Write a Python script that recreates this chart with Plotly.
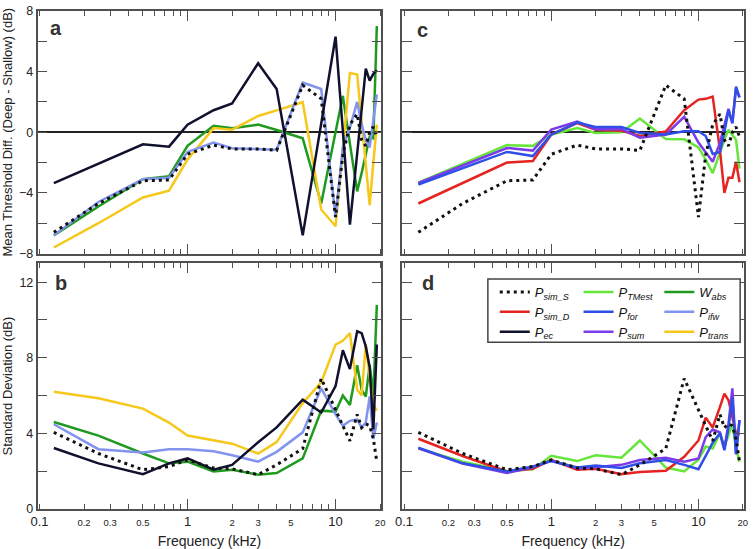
import plotly.graph_objects as go

# ---------------- data ----------------
FREQ_KHZ = [0.125, 0.25, 0.5, 0.75, 1, 1.5, 2, 3, 4, 6, 8, 10, 11.2, 12.5, 14, 15, 16, 17, 18, 19]

# Mean threshold difference (Deep - Shallow), dB
MEAN_PSIM_S = [-6.6, -4.7, -3.2, -3.15, -1.45, -0.85, -1.1, -1.1, -1.2, 3.1, 2.2, -5.6, -1.5, 0.5, 1.2, -0.5, -0.9, 0.0, 0.35, -0.3]
MEAN_PSIM_D = [-4.7, -3.35, -2.0, -1.9, -0.15, 0.6, 0.17, 0.1, -0.25, 0.05, 1.45, 2.15, 2.2, 2.35, -1.2, -4.0, -3.0, -3.0, -1.95, -3.3]
MEAN_PEC = [-3.35, -2.1, -0.8, -0.95, 0.5, 1.45, 1.9, 4.55, 2.85, -6.8, 0.6, 6.3, 0.1, -6.1, -1.4, 1.5, 4.2, 3.4, 3.85, 4.1]
MEAN_PTMEST = [-3.33, -2.1, -0.85, -0.9, -0.15, 0.28, -0.05, 0.0, 0.9, -0.45, -0.47, -1.0, -1.8, -2.7, -1.3, -0.5, 0.17, -0.15, -0.5, -2.4]
MEAN_PFOR = [-3.45, -2.4, -1.3, -1.57, -0.15, 0.64, 0.34, 0.34, -0.05, -0.15, 0.06, 0.06, -0.25, -1.43, -1.3, 0.0, 1.44, 0.6, 3.0, 2.3]
MEAN_PSUM = [-3.35, -2.2, -1.04, -1.21, 0.17, 0.7, 0.2, 0.2, -0.36, -0.15, 1.02, -0.68, -1.3, -1.95, -0.7, 0.4, 1.55, 0.6, 2.9, 2.3]
MEAN_WABS = [-6.8, -4.9, -3.1, -2.9, -0.9, 0.42, 0.27, 0.5, 0.15, -0.4, -4.7, 0.0, 2.4, -0.75, -3.9, -2.7, -1.4, -0.3, -0.4, 7.0]
MEAN_PIFW = [-6.8, -4.6, -3.1, -3.0, -1.3, -0.68, -1.05, -1.1, -1.15, 3.27, 2.85, -5.6, -1.0, 0.3, 2.0, 0.5, -0.5, -1.0, 0.8, 2.5]
MEAN_PTRANS = [-7.6, -6.0, -4.3, -3.85, -1.8, 0.27, 0.17, 1.07, 1.44, 1.98, -5.1, -6.2, -1.15, 3.9, 3.8, 0.7, -2.1, -4.8, -2.0, 0.5]

# Standard deviation, dB
SD_PSIM_S = [4.05, 2.93, 2.07, 2.24, 2.59, 2.16, 2.12, 1.81, 2.33, 3.19, 6.9, 5.2, 4.4, 3.6, 5.0, 4.3, 4.5, 4.4, 3.7, 2.5]
SD_PSIM_D = [3.71, 2.8, 1.98, 2.12, 2.59, 2.07, 2.12, 1.84, 1.95, 2.02, 2.76, 3.62, 4.83, 4.31, 5.4, 6.1, 5.75, 4.8, 4.0, 3.9]
SD_PEC = [3.22, 2.41, 1.84, 2.41, 2.67, 2.07, 2.33, 3.53, 4.31, 5.78, 5.1, 6.5, 8.4, 7.4, 9.4, 9.3, 8.6, 7.5, 4.2, 8.7]
SD_PTMEST = [3.2, 2.5, 2.0, 2.1, 2.81, 2.53, 2.84, 2.71, 3.62, 2.19, 1.98, 2.6, 3.3, 3.2, 4.0, 3.3, 3.9, 4.48, 3.2, 2.5]
SD_PFOR = [3.24, 2.41, 1.98, 2.24, 2.53, 2.19, 2.29, 2.16, 2.41, 2.59, 2.33, 2.1, 2.8, 3.5, 4.0, 3.1, 4.3, 5.9, 2.9, 4.7]
SD_PSUM = [3.2, 2.4, 1.9, 2.2, 2.55, 2.15, 2.2, 2.33, 2.59, 2.71, 2.5, 2.67, 3.8, 4.2, 4.05, 3.2, 4.5, 6.38, 2.9, 4.7]
SD_WABS = [4.6, 3.88, 2.93, 2.41, 2.5, 1.98, 2.07, 1.81, 1.9, 2.67, 5.2, 5.15, 6.0, 5.5, 7.6, 6.3, 5.95, 7.6, 6.0, 10.8]
SD_PIFW = [4.48, 3.16, 2.98, 3.16, 3.16, 3.05, 2.84, 2.5, 3.02, 4.05, 6.38, 5.0, 4.4, 4.66, 4.74, 4.31, 4.57, 5.95, 3.7, 4.57]
SD_PTRANS = [6.2, 5.86, 5.31, 4.57, 3.88, 3.62, 3.45, 2.93, 3.53, 5.6, 6.7, 8.7, 8.9, 9.3, 6.3, 6.0, 8.7, 7.0, 5.5, 5.2]

XTICK_VALS = [0.1, 0.2, 0.3, 0.5, 1, 2, 3, 5, 10, 20]
XTICK_TEXT = ["0.1", "0.2", "0.3", "0.5", "1", "2", "3", "5", "10", "20"]
XTICK_BIG = ["0.1", "1", "10"]
XMINOR_VALS = [0.4, 0.6, 0.7, 0.8, 0.9, 4, 6, 7, 8, 9]
XLONG_VALS = [1, 10]

# ---------------- style ----------------
FONT = "Liberation Sans, Arial, Helvetica, sans-serif"
AX = "#505050"

SERIES = {
    "Psim_S": dict(name="<i>P<sub>sim_S</sub></i>", color="#111111", dash="3px,4px", width=3,
                   mean=MEAN_PSIM_S, sd=SD_PSIM_S),
    "Psim_D": dict(name="<i>P<sub>sim_D</sub></i>", color="#e52420", dash="solid", width=2.5,
                   mean=MEAN_PSIM_D, sd=SD_PSIM_D),
    "Pec": dict(name="<i>P<sub>ec</sub></i>", color="#10112e", dash="solid", width=2.5,
                mean=MEAN_PEC, sd=SD_PEC),
    "PTMest": dict(name="<i>P<sub>TMest</sub></i>", color="#66e63a", dash="solid", width=2.5,
                   mean=MEAN_PTMEST, sd=SD_PTMEST),
    "Pfor": dict(name="<i>P<sub>for</sub></i>", color="#2f4fe6", dash="solid", width=2.5,
                 mean=MEAN_PFOR, sd=SD_PFOR),
    "Psum": dict(name="<i>P<sub>sum</sub></i>", color="#7b3be8", dash="solid", width=2.5,
                 mean=MEAN_PSUM, sd=SD_PSUM),
    "Wabs": dict(name="<i>W<sub>abs</sub></i>", color="#1f9a1f", dash="solid", width=2.5,
                 mean=MEAN_WABS, sd=SD_WABS),
    "Pifw": dict(name="<i>P<sub>ifw</sub></i>", color="#8394ee", dash="solid", width=2.5,
                 mean=MEAN_PIFW, sd=SD_PIFW),
    "Ptrans": dict(name="<i>P<sub>trans</sub></i>", color="#f6c81b", dash="solid", width=2.5,
                   mean=MEAN_PTRANS, sd=SD_PTRANS),
}
# three legend columns
LEGEND_COLS = {
    "legend": ["Psim_S", "Psim_D", "Pec"],
    "legend2": ["PTMest", "Pfor", "Psum"],
    "legend3": ["Wabs", "Pifw", "Ptrans"],
}
LEGEND_OF = {k: lg for lg, ks in LEGEND_COLS.items() for k in ks}
RANK_OF = {k: i + 1 for ks in LEGEND_COLS.values() for i, k in enumerate(ks)}

GROUP_A = ["Wabs", "Ptrans", "Pifw", "Pec", "Psim_S"]      # panels a, b
GROUP_C = ["PTMest", "Psim_D", "Psum", "Pfor", "Psim_S"]   # panels c, d

fig = go.Figure()
shown = set()


def add(key, xa, ya, yvals):
    s = SERIES[key]
    show = key not in shown
    shown.add(key)
    fig.add_trace(go.Scatter(
        x=FREQ_KHZ, y=yvals, mode="lines", name=s["name"],
        line=dict(color=s["color"], width=s["width"], dash=s["dash"]),
        xaxis=xa, yaxis=ya, showlegend=show, legend=LEGEND_OF[key],
        legendrank=RANK_OF[key], hoverinfo="skip"))


for k in GROUP_A:
    add(k, "x2", "y2", SERIES[k]["sd"])
    add(k, "x", "y", SERIES[k]["mean"])
for k in GROUP_C:
    add(k, "x4", "y4", SERIES[k]["sd"])
    add(k, "x3", "y3", SERIES[k]["mean"])

# empty traces so that the overlay axes (long ticks at 1 and 10) are drawn
for xa, ya in [("x5", "y"), ("x6", "y2"), ("x7", "y3"), ("x8", "y4")]:
    fig.add_trace(go.Scatter(x=[], y=[], xaxis=xa, yaxis=ya, showlegend=False, hoverinfo="skip"))

W, H = 754, 549
XDOM_L = [31 / W, 380 / W]
XDOM_R = [401 / W, 748 / W]
YDOM_T = [1 - 253 / H, 1 - 4 / H]
YDOM_B = [1 - 515 / H, 1 - 263 / H]
XR = [-1.013, 1.31]

ticktext = [t if t in XTICK_BIG else "<span style='font-size:9.5px'>%s</span>" % t for t in XTICK_TEXT]


def xaxis(domain, anchor, labels, title=None):
    d = dict(domain=domain, anchor=anchor, type="log", range=XR,
             showline=True, linecolor=AX, linewidth=1.5, mirror="allticks",
             ticks="inside", ticklen=5, tickwidth=1.2, tickcolor=AX,
             tickmode="array", tickvals=XTICK_VALS, ticktext=ticktext,
             showticklabels=labels, showgrid=False, zeroline=False,
             ticklabeloverflow="allow",
             tickfont=dict(family=FONT, size=13, color="#222"),
             minor=dict(tickmode="array", tickvals=XMINOR_VALS, ticks="inside",
                        ticklen=5, tickwidth=1.2, tickcolor=AX, showgrid=False))
    if title:
        d["title"] = dict(text=title, font=dict(family=FONT, size=14, color="#222"), standoff=8)
    return d


def long_ticks(over, anchor):
    return dict(overlaying=over, anchor=anchor, type="log", range=XR,
                showline=False, mirror="ticks", ticks="inside", ticklen=10,
                tickwidth=1.2, tickcolor=AX, tickmode="array", tickvals=XLONG_VALS,
                showticklabels=False, showgrid=False, zeroline=False)


def yaxis(domain, anchor, rng, vals, minor_vals, labels, zl, title=None):
    d = dict(domain=domain, anchor=anchor, range=rng,
             showline=True, linecolor=AX, linewidth=1.5, mirror="allticks",
             ticks="inside", ticklen=10, tickwidth=1.2, tickcolor=AX,
             tickmode="array", tickvals=vals, showticklabels=labels,
             ticklabeloverflow="allow",
             showgrid=False, zeroline=zl, zerolinecolor="#222", zerolinewidth=1.5,
             tickfont=dict(family=FONT, size=12.5, color="#222"),
             minor=dict(tickmode="array", tickvals=minor_vals, ticks="inside",
                        ticklen=6, tickwidth=1.2, tickcolor=AX, showgrid=False))
    if title:
        d["title"] = dict(text=title, font=dict(family=FONT, size=13, color="#222"), standoff=5)
    return d


def legend_col(xpix):
    return dict(x=xpix / W, y=1 - 277 / H, xanchor="left", yanchor="top",
                orientation="v", itemwidth=30, bgcolor="rgba(0,0,0,0)", borderwidth=0,
                font=dict(family=FONT, size=13, color="#111"), traceorder="normal",
                tracegroupgap=0)


fig.update_layout(
    width=W, height=H, margin=dict(l=0, r=0, t=0, b=0),
    paper_bgcolor="white", plot_bgcolor="white",
    font=dict(family=FONT, color="#222"),
    xaxis=xaxis(XDOM_L, "y", False),
    xaxis2=xaxis(XDOM_L, "y2", True, "Frequency (kHz)"),
    xaxis3=xaxis(XDOM_R, "y3", False),
    xaxis4=xaxis(XDOM_R, "y4", True, "Frequency (kHz)"),
    xaxis5=long_ticks("x", "y"),
    xaxis6=long_ticks("x2", "y2"),
    xaxis7=long_ticks("x3", "y3"),
    xaxis8=long_ticks("x4", "y4"),
    yaxis=yaxis(YDOM_T, "x", [-8, 8], [-8, -4, 0, 4, 8], [-6, -2, 2, 6], True, True,
                "Mean Threshold Diff. (Deep - Shallow) (dB)"),
    yaxis2=yaxis(YDOM_B, "x2", [0, 13], [0, 4, 8, 12], [2, 6, 10], True, False,
                 "Standard Deviation (dB)"),
    yaxis3=yaxis(YDOM_T, "x3", [-8, 8], [-8, -4, 0, 4, 8], [-6, -2, 2, 6], False, True),
    yaxis4=yaxis(YDOM_B, "x4", [0, 13], [0, 4, 8, 12], [2, 6, 10], False, False),
    legend=legend_col(495),
    legend2=legend_col(580),
    legend3=legend_col(662),
    showlegend=True,
)

# legend frame (white box behind the three legend columns)
fig.add_shape(type="rect", xref="paper", yref="paper",
              x0=488 / W, x1=744 / W, y0=1 - 344 / H, y1=1 - 279 / H,
              line=dict(color="#444", width=1.5), fillcolor="white", layer="above")

for lbl, xr, yr, xf, yf in [("a", "x", "y", 0.055, 0.93), ("b", "x2", "y2", 0.068, 0.92),
                             ("c", "x3", "y3", 0.06, 0.92), ("d", "x4", "y4", 0.075, 0.92)]:
    fig.add_annotation(text="<b>%s</b>" % lbl, xref=xr + " domain", yref=yr + " domain",
                       x=xf, y=yf, xanchor="center", yanchor="middle", showarrow=False,
                       font=dict(family=FONT, size=20, color="#333"))

fig.write_html("out.html", config={"displayModeBar": False},
               post_script="document.body.style.margin='0';document.body.style.overflow='hidden';")
